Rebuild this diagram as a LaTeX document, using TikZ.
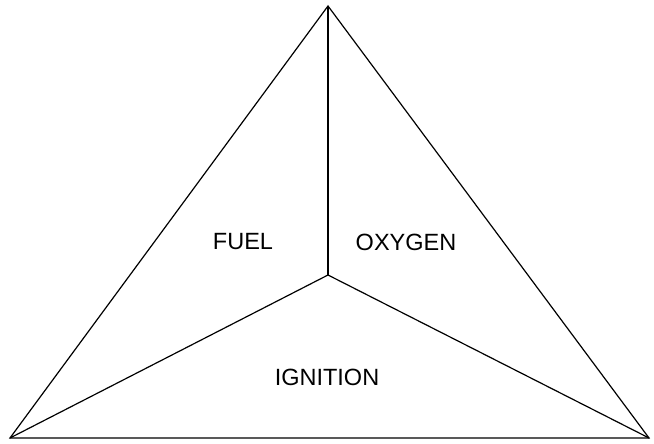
\documentclass[tikz,border=0pt]{standalone}
\usepackage{fontspec}
\setmainfont{Liberation Sans}
\usetikzlibrary{positioning}

\begin{document}
\begin{tikzpicture}[
  x=1pt,y=-1pt,
  edge/.style={line width=1.2pt,black},
  part/.style={font=\fontsize{23.5}{28}\selectfont,inner sep=0pt,anchor=center},
]

% page frame, pixel sized
\useasboundingbox (0,0) rectangle (654,444);

% ---------------- corners of the triangle ----------------
\coordinate (top)   at (328,6);
\coordinate (left)  at (10,438);
\coordinate (right) at (649,438);
\coordinate (mid)   at (328,275);

% ---------------- outline and the three spokes ----------------
\draw[edge] (top) -- (left) -- (right) -- cycle;
\foreach \c in {top,left,right}{\draw[edge] (mid) -- (\c);}

% ---------------- labels ----------------
\node[part] (fuel)     at (243,242) {FUEL};
\node[part] (oxygen)   at (406,242) {OXYGEN};
\node[part] (ignition) at (327,377) {IGNITION};

\end{tikzpicture}
\end{document}
